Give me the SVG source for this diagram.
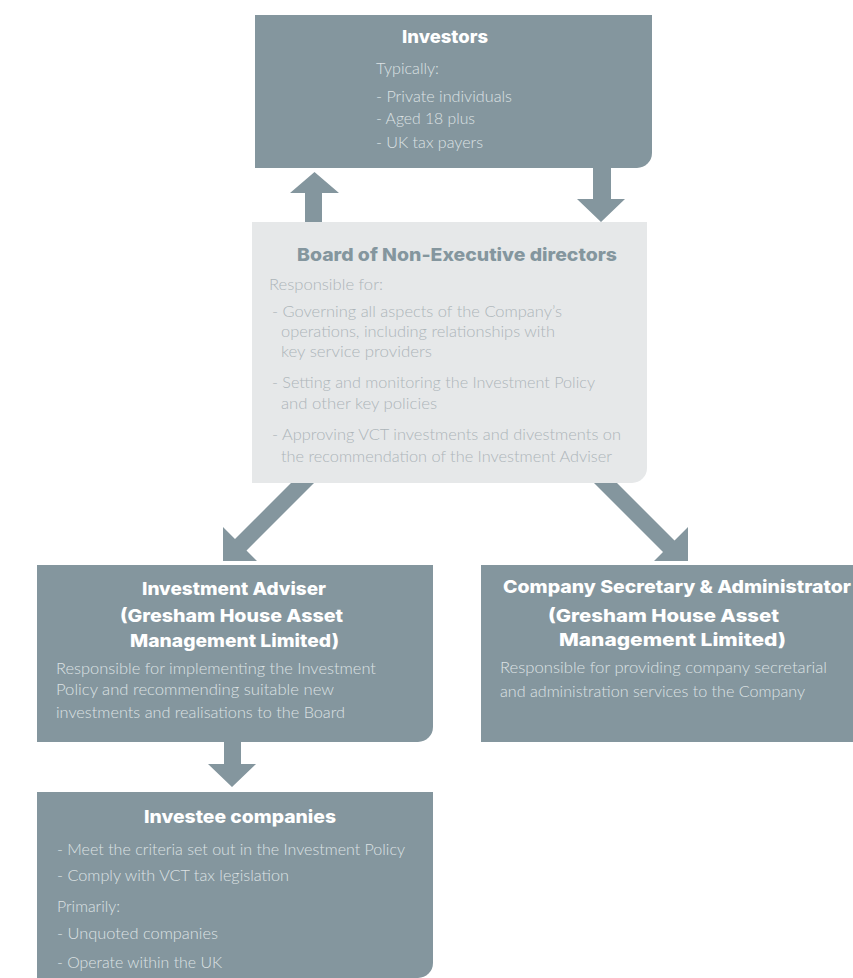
<svg xmlns="http://www.w3.org/2000/svg" width="853" height="978" viewBox="0 0 853 978">
<style>
.dark{fill:#84969e}
.light{fill:#e6e8e9}
.arrow{fill:#84969e}
.t{font-family:Inter,Lato,"Liberation Sans",sans-serif;font-weight:800;font-size:18px;fill:#ffffff}
.bt{font-family:Inter,Lato,"Liberation Sans",sans-serif;font-weight:800;font-size:18px;fill:#84969e}
.b{font-family:Lato,"Liberation Sans",sans-serif;font-weight:300;font-size:15.5px;fill:#dde2e4}
.lb{font-family:Lato,"Liberation Sans",sans-serif;font-weight:300;font-size:15.5px;fill:#adb5b9}
</style>
<rect width="853" height="978" fill="#ffffff"/>
<g id="connectors">
<polygon class="arrow" points="314.5,172 339,193 322,193 322,223 305,223 305,193 290,193"/>
<polygon class="arrow" points="593,168 611,168 611,199 625,199 601,222 577,199 593,199"/>
<polygon class="arrow" points="291,483 314,483 246.5,550.5 257,561 223,561 223,527 235,539"/>
<polygon class="arrow" points="594,483 617,483 674.5,540.5 688,527 688,561 654,561 663,552"/>
<polygon class="arrow" points="224,741 241,741 241,764 256,764 232,787 208,764 224,764"/>
</g>
<g id="investors">
<path class="dark" d="M255,15 H652 V153 A15,15 0 0 1 637,168 H255 Z"/>
<text class="t" x="402" y="43" textLength="86" lengthAdjust="spacingAndGlyphs">Investors</text>
<text class="b" x="376" y="74" textLength="63" lengthAdjust="spacingAndGlyphs">Typically:</text>
<text class="b" x="376" y="102" textLength="136" lengthAdjust="spacingAndGlyphs">- Private individuals</text>
<text class="b" x="376" y="124" textLength="99" lengthAdjust="spacingAndGlyphs">- Aged 18 plus</text>
<text class="b" x="376" y="148" textLength="107" lengthAdjust="spacingAndGlyphs">- UK tax payers</text>
</g>
<g id="board">
<path class="light" d="M252,222 H647 V468 A15,15 0 0 1 632,483 H252 Z"/>
<text class="bt" x="297" y="261" textLength="320" lengthAdjust="spacingAndGlyphs">Board of Non-Executive directors</text>
<text class="lb" x="269" y="290" textLength="114" lengthAdjust="spacingAndGlyphs">Responsible for:</text>
<text class="lb" x="272" y="317" textLength="290" lengthAdjust="spacingAndGlyphs">- Governing all aspects of the Company’s</text>
<text class="lb" x="281" y="337" textLength="274" lengthAdjust="spacingAndGlyphs">operations, including relationships with</text>
<text class="lb" x="281" y="357" textLength="151" lengthAdjust="spacingAndGlyphs">key service providers</text>
<text class="lb" x="272" y="388" textLength="323" lengthAdjust="spacingAndGlyphs">- Setting and monitoring the Investment Policy</text>
<text class="lb" x="281" y="409" textLength="156" lengthAdjust="spacingAndGlyphs">and other key policies</text>
<text class="lb" x="272" y="440" textLength="349" lengthAdjust="spacingAndGlyphs">- Approving VCT investments and divestments on</text>
<text class="lb" x="281" y="462" textLength="331" lengthAdjust="spacingAndGlyphs">the recommendation of the Investment Adviser</text>
</g>
<g id="adviser">
<path class="dark" d="M37,565 H433 V727 A15,15 0 0 1 418,742 H37 Z"/>
<text class="t" x="142" y="595" textLength="184" lengthAdjust="spacingAndGlyphs">Investment Adviser</text>
<text class="t" x="120" y="622" textLength="223" lengthAdjust="spacingAndGlyphs">(Gresham House Asset</text>
<text class="t" x="130" y="647" textLength="209" lengthAdjust="spacingAndGlyphs">Management Limited)</text>
<text class="b" x="56" y="674" textLength="320" lengthAdjust="spacingAndGlyphs">Responsible for implementing the Investment</text>
<text class="b" x="56" y="695" textLength="278" lengthAdjust="spacingAndGlyphs">Policy and recommending suitable new</text>
<text class="b" x="56" y="718" textLength="289" lengthAdjust="spacingAndGlyphs">investments and realisations to the Board</text>
</g>
<g id="secretary">
<path class="dark" d="M481,565 H853 V742 H481 Z"/>
<text class="t" x="503" y="593" textLength="348" lengthAdjust="spacingAndGlyphs">Company Secretary &amp; Administrator</text>
<text class="t" x="548" y="622" textLength="231" lengthAdjust="spacingAndGlyphs">(Gresham House Asset</text>
<text class="t" x="559" y="646" textLength="227" lengthAdjust="spacingAndGlyphs">Management Limited)</text>
<text class="b" x="500" y="673" textLength="327" lengthAdjust="spacingAndGlyphs">Responsible for providing company secretarial</text>
<text class="b" x="500" y="697" textLength="305" lengthAdjust="spacingAndGlyphs">and administration services to the Company</text>
</g>
<g id="investees">
<path class="dark" d="M37,792 H433 V963 A15,15 0 0 1 418,978 H37 Z"/>
<text class="t" x="144" y="823" textLength="192" lengthAdjust="spacingAndGlyphs">Investee companies</text>
<text class="b" x="57" y="855" textLength="348" lengthAdjust="spacingAndGlyphs">- Meet the criteria set out in the Investment Policy</text>
<text class="b" x="57" y="881" textLength="232" lengthAdjust="spacingAndGlyphs">- Comply with VCT tax legislation</text>
<text class="b" x="57" y="912" textLength="63" lengthAdjust="spacingAndGlyphs">Primarily:</text>
<text class="b" x="57" y="939" textLength="161" lengthAdjust="spacingAndGlyphs">- Unquoted companies</text>
<text class="b" x="57" y="968" textLength="165" lengthAdjust="spacingAndGlyphs">- Operate within the UK</text>
</g>
</svg>
